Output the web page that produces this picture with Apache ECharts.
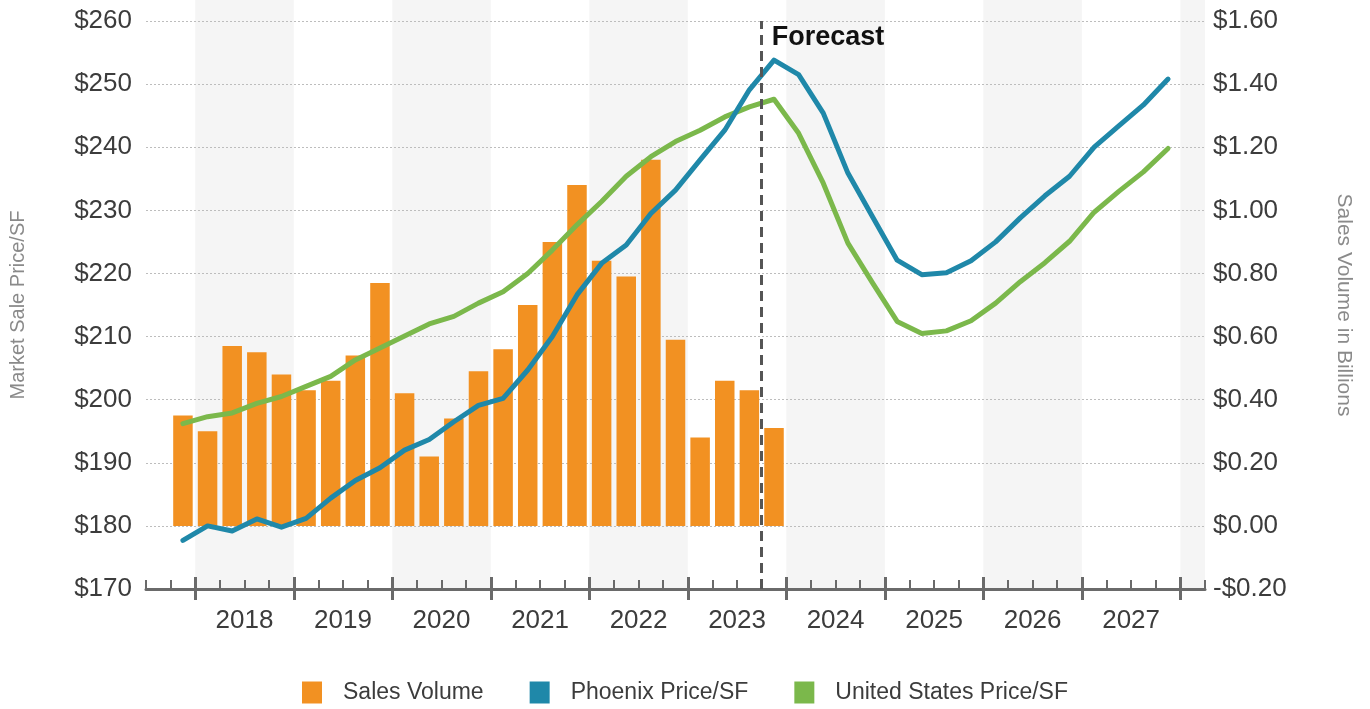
<!DOCTYPE html>
<html>
<head>
<meta charset="utf-8">
<script src="https://cdn.jsdelivr.net/npm/echarts@6/dist/echarts.min.js"></script>
<style>
  html, body { margin: 0; padding: 0; background: #ffffff; }
  #chart { width: 1370px; height: 709px; }
</style>
</head>
<body>
<div id="chart"></div>
<script>
// Quarterly categories, 2017 Q3 through 2028 Q1
const quarters = [
  '2017 Q3','2017 Q4',
  '2018 Q1','2018 Q2','2018 Q3','2018 Q4',
  '2019 Q1','2019 Q2','2019 Q3','2019 Q4',
  '2020 Q1','2020 Q2','2020 Q3','2020 Q4',
  '2021 Q1','2021 Q2','2021 Q3','2021 Q4',
  '2022 Q1','2022 Q2','2022 Q3','2022 Q4',
  '2023 Q1','2023 Q2','2023 Q3','2023 Q4',
  '2024 Q1','2024 Q2','2024 Q3','2024 Q4',
  '2025 Q1','2025 Q2','2025 Q3','2025 Q4',
  '2026 Q1','2026 Q2','2026 Q3','2026 Q4',
  '2027 Q1','2027 Q2','2027 Q3','2027 Q4',
  '2028 Q1'
];

// Year labels shown under the axis
const yearLabels = ['2018','2019','2020','2021','2022','2023','2024','2025','2026','2027'];

// Sales volume, $ billions (history only)
const salesVolume = [
  null, 0.35,
  0.30, 0.57, 0.55, 0.48,
  0.43, 0.46, 0.54, 0.77,
  0.42, 0.22, 0.34, 0.49,
  0.56, 0.70, 0.90, 1.08,
  0.84, 0.79, 1.16, 0.59,
  0.28, 0.46, 0.43, 0.31,
  null, null, null, null,
  null, null, null, null,
  null, null, null, null,
  null, null, null, null,
  null
];

// Phoenix market sale price per SF
const phoenixPrice = [
  null, 177.7,
  180.0, 179.2, 181.1, 179.8,
  181.2, 184.4, 187.2, 189.2,
  192.0, 193.7, 196.5, 199.1,
  200.2, 204.7, 210.0, 216.6,
  221.6, 224.5, 229.5, 233.2,
  238.0, 242.7, 249.1, 253.8,
  251.5, 245.4, 235.9, 229.0,
  222.1, 219.8, 220.1, 222.0,
  225.0, 228.8, 232.3, 235.4,
  240.0, 243.4, 246.7, 250.8,
  null
];

// United States market sale price per SF
const usPrice = [
  null, 196.2,
  197.3, 197.9, 199.4, 200.5,
  202.1, 203.7, 206.3, 208.2,
  210.1, 212.0, 213.2, 215.3,
  217.1, 220.0, 223.7, 227.7,
  231.4, 235.4, 238.5, 240.9,
  242.7, 244.8, 246.4, 247.6,
  242.2, 234.3, 224.8, 218.5,
  212.4, 210.5, 210.9, 212.5,
  215.3, 218.7, 221.7, 225.1,
  229.7, 233.0, 236.1, 239.8,
  null
];

const forecastStart = '2023 Q4';
const forecastLabel = 'Forecast';

const COLORS = { sales: '#F29122', phoenix: '#1F88A9', us: '#7BB84B' };
const AXIS_GRAY = '#6a6a6a';
const TEXT_DARK = '#3c3c3c';
const FONT = '"Liberation Sans", Arial, sans-serif';

// Position helpers in quarter units along the hidden value axis (0 .. quarters.length)
const nQ = quarters.length;
const qIndex = (name) => quarters.indexOf(name);
const yearStart = (y) => qIndex(y + ' Q1');
const yearTickValues = [];
for (let y = 2018; y <= 2028; y++) yearTickValues.push(yearStart(y));
const yearLabelValues = yearLabels.map(y => yearStart(y) + 2);
const shadedYears = ['2018', '2020', '2022', '2024', '2026', '2028'];
const bandAreas = shadedYears.map(y => {
  const s = yearStart(y);
  return [{ xAxis: s }, { xAxis: Math.min(s + 4, nQ) }];
});
const forecastX = qIndex(forecastStart);

const chart = echarts.init(document.getElementById('chart'), null, { renderer: 'canvas' });

const gridLeft = 146, gridRight = 165, gridTop = 21, gridBottom = 120;

chart.setOption({
  animation: false,
  backgroundColor: '#ffffff',
  textStyle: { fontFamily: FONT },
  grid: [
    { left: gridLeft, right: gridRight, top: gridTop, bottom: gridBottom },
    { left: gridLeft, right: gridRight, top: 0, bottom: gridBottom }
  ],
  legend: {
    data: ['Sales Volume', 'Phoenix Price/SF', 'United States Price/SF'],
    bottom: 0,
    left: 'center',
    icon: 'rect',
    itemWidth: 20,
    itemHeight: 22,
    itemGap: 46,
    textStyle: { fontSize: 23, color: TEXT_DARK, fontFamily: FONT, padding: [0, 0, 0, 16] }
  },
  xAxis: [
    {
      // quarter axis: line and short inner ticks at each quarter boundary
      type: 'category',
      gridIndex: 0,
      data: quarters,
      boundaryGap: true,
      position: 'bottom',
      axisLine: { onZero: false, lineStyle: { color: AXIS_GRAY, width: 3 } },
      axisTick: { show: true, inside: true, length: 9, interval: 0, lineStyle: { color: AXIS_GRAY, width: 2 } },
      axisLabel: { show: false },
      splitLine: { show: false }
    },
    {
      // year axis: long ticks at year boundaries, year labels centred in each year
      type: 'value',
      gridIndex: 0,
      min: 0,
      max: nQ,
      position: 'bottom',
      offset: -12,
      axisLine: { show: false, onZero: false },
      axisTick: { show: true, length: 23, customValues: yearTickValues, lineStyle: { color: AXIS_GRAY, width: 3 } },
      axisLabel: {
        show: true,
        customValues: yearLabelValues,
        formatter: (v) => yearLabels[yearLabelValues.indexOf(v)] || '',
        margin: 31,
        fontSize: 26,
        color: TEXT_DARK,
        fontFamily: FONT
      },
      splitLine: { show: false }
    },
    {
      type: 'value',
      gridIndex: 1,
      min: 0,
      max: nQ,
      show: false,
      axisLine: { onZero: false }
    }
  ],
  yAxis: [
    {
      type: 'value',
      gridIndex: 0,
      position: 'left',
      min: 170,
      max: 260,
      interval: 10,
      name: 'Market Sale Price/SF',
      nameLocation: 'middle',
      nameGap: 118,
      nameTextStyle: { fontSize: 20, color: '#8a8a8a', fontFamily: FONT },
      axisLine: { show: false, onZero: false },
      axisTick: { show: false },
      axisLabel: { formatter: (v) => '$' + v, fontSize: 26, color: TEXT_DARK, margin: 14, fontFamily: FONT },
      splitLine: { show: true, lineStyle: { color: '#bdbdbd', width: 1, type: [2, 2] } }
    },
    {
      type: 'value',
      gridIndex: 0,
      position: 'right',
      min: -0.2,
      max: 1.6,
      interval: 0.2,
      name: 'Sales Volume in Billions',
      nameLocation: 'middle',
      nameRotate: -90,
      nameGap: 128,
      nameTextStyle: { fontSize: 21, color: '#8a8a8a', fontFamily: FONT },
      axisLine: { show: false, onZero: false },
      axisTick: { show: false },
      axisLabel: {
        formatter: (v) => (v < -1e-9 ? '-$' : '$') + Math.abs(v).toFixed(2),
        fontSize: 26, color: TEXT_DARK, margin: 8, fontFamily: FONT
      },
      splitLine: { show: false }
    },
    {
      type: 'value',
      gridIndex: 1,
      min: 0,
      max: 1,
      show: false,
      axisLine: { onZero: false }
    }
  ],
  series: [
    {
      // alternating year shading behind everything
      name: 'bands',
      type: 'line',
      xAxisIndex: 2,
      yAxisIndex: 2,
      data: [],
      silent: true,
      z: -10,
      markArea: {
        silent: true,
        z: -10,
        itemStyle: { color: '#f5f5f5' },
        data: bandAreas
      }
    },
    {
      name: 'Sales Volume',
      type: 'bar',
      xAxisIndex: 0,
      yAxisIndex: 1,
      data: salesVolume,
      barWidth: 19.5,
      itemStyle: { color: COLORS.sales },
      z: 2
    },
    {
      name: 'Phoenix Price/SF',
      type: 'line',
      xAxisIndex: 0,
      yAxisIndex: 0,
      data: phoenixPrice,
      symbol: 'none',
      connectNulls: false,
      lineStyle: { color: COLORS.phoenix, width: 5, cap: 'round', join: 'round' },
      itemStyle: { color: COLORS.phoenix },
      z: 4
    },
    {
      name: 'United States Price/SF',
      type: 'line',
      xAxisIndex: 0,
      yAxisIndex: 0,
      data: usPrice,
      symbol: 'none',
      lineStyle: { color: COLORS.us, width: 5, cap: 'round', join: 'round' },
      itemStyle: { color: COLORS.us },
      z: 3
    },
    {
      // forecast divider and its caption
      name: 'forecast',
      type: 'line',
      xAxisIndex: 1,
      yAxisIndex: 0,
      data: [],
      silent: true,
      z: 5,
      markLine: {
        silent: true,
        symbol: ['none', 'none'],
        label: { show: false },
        lineStyle: { color: '#555555', width: 3, type: [10, 6] },
        data: [{ xAxis: forecastX }]
      },
      markPoint: {
        silent: true,
        symbol: 'circle',
        symbolSize: 0,
        label: {
          show: true,
          position: 'right',
          distance: 10,
          formatter: forecastLabel,
          fontSize: 27,
          fontWeight: 'bold',
          color: '#111111',
          fontFamily: FONT
        },
        data: [{ coord: [forecastX, 257.3] }]
      }
    }
  ]
});
</script>
</body>
</html>
